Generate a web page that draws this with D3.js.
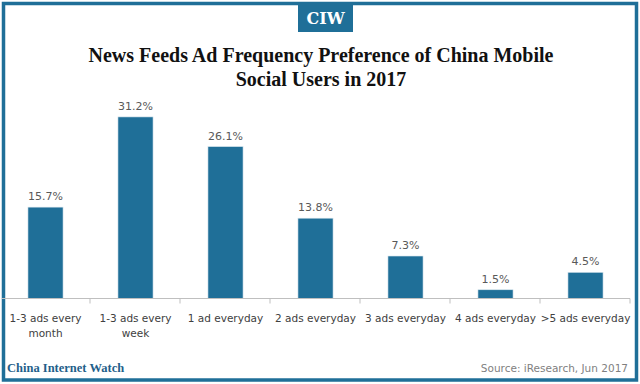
<!DOCTYPE html>
<html>
<head>
<meta charset="utf-8">
<script src="https://cdn.jsdelivr.net/npm/d3@7"></script>
<style>
  body { margin: 0; background: #fff; }
  svg { display: block; }
</style>
</head>
<body>
<div id="chart"></div>
<script>
const categories = [
  ["1-3 ads every", "month"],
  ["1-3 ads every", "week"],
  ["1 ad everyday"],
  ["2 ads everyday"],
  ["3 ads everyday"],
  ["4 ads everyday"],
  [">5 ads everyday"]
]
const values = [15.7, 31.2, 26.1, 13.8, 7.3, 1.5, 4.5]

const W = 640, H = 384
const blue = "#1f6f98"

const svg = d3.select("#chart").append("svg").attr("width", W).attr("height", H)

// frame
svg.append("rect")
  .attr("x", 3.5).attr("y", 3.5)
  .attr("width", 633).attr("height", 376.5)
  .attr("fill", "none")
  .attr("stroke", blue)
  .attr("stroke-width", 3.5)

// CIW badge
svg.append("rect")
  .attr("x", 298).attr("y", 3).attr("width", 55).attr("height", 29)
  .attr("fill", blue)
svg.append("text")
  .attr("x", 325.5).attr("y", 24)
  .attr("text-anchor", "middle")
  .attr("font-family", "'DejaVu Serif', serif")
  .attr("font-weight", "bold")
  .attr("font-size", 16)
  .attr("fill", "#fff")
  .text("CIW")

// title
const title = svg.append("text")
  .attr("text-anchor", "middle")
  .attr("font-family", "'Liberation Serif', 'DejaVu Serif', serif")
  .attr("font-weight", "bold")
  .attr("font-size", 20)
  .attr("fill", "#111")
title.append("tspan").attr("x", 321).attr("y", 62)
  .text("News Feeds Ad Frequency Preference of China Mobile")
title.append("tspan").attr("x", 321).attr("y", 86)
  .text("Social Users in 2017")

const x = d3.scaleBand()
  .domain(d3.range(categories.length))
  .range([0.5, 630.5])
  .paddingInner(0.61)
  .paddingOuter(0.305)

const y = d3.scaleLinear()
  .domain([0, 35])
  .range([298.5, 94.8])

// bars
svg.append("g")
  .selectAll("rect")
  .data(values)
  .join("rect")
  .attr("x", (d, i) => x(i))
  .attr("y", d => y(d))
  .attr("width", x.bandwidth())
  .attr("height", d => y(0) - y(d))
  .attr("fill", blue)
  .attr("stroke", "#d9e6ee")
  .attr("stroke-width", 0.6)

// value labels
svg.append("g")
  .selectAll("text")
  .data(values)
  .join("text")
  .attr("x", (d, i) => x(i) + x.bandwidth() / 2)
  .attr("y", d => y(d) - 7)
  .attr("text-anchor", "middle")
  .attr("font-family", "'DejaVu Sans', sans-serif")
  .attr("font-size", 11)
  .attr("fill", "#595959")
  .text(d => d.toFixed(1) + "%")

// axis line and ticks
const step = x.step()
const axis = svg.append("g")
axis.append("line")
  .attr("x1", 2).attr("x2", 630)
  .attr("y1", 298.5).attr("y2", 298.5)
  .attr("stroke", "#bfbfbf")
axis.selectAll("line.tick")
  .data(d3.range(1, categories.length + 1))
  .join("line")
  .attr("class", "tick")
  .attr("x1", i => 0.5 + i * step - 0.5).attr("x2", i => 0.5 + i * step - 0.5)
  .attr("y1", 298.5).attr("y2", 303.5)
  .attr("stroke", "#bfbfbf")

// category labels
const cat = svg.append("g")
  .selectAll("text")
  .data(categories)
  .join("text")
  .attr("text-anchor", "middle")
  .attr("font-family", "'DejaVu Sans', sans-serif")
  .attr("font-size", 10.5)
  .attr("fill", "#404040")
cat.each(function (lines, i) {
  const t = d3.select(this)
  lines.forEach((l, k) => {
    t.append("tspan")
      .attr("x", x(i) + x.bandwidth() / 2)
      .attr("y", 322 + k * 15)
      .text(l)
  })
})

// footer
svg.append("text")
  .attr("x", 7).attr("y", 372)
  .attr("font-family", "'Liberation Serif', 'DejaVu Serif', serif")
  .attr("font-weight", "bold")
  .attr("font-size", 12.5)
  .attr("fill", "#1f5f8a")
  .text("China Internet Watch")
svg.append("text")
  .attr("x", 628).attr("y", 372)
  .attr("text-anchor", "end")
  .attr("font-family", "'DejaVu Sans', sans-serif")
  .attr("font-size", 10.5)
  .attr("fill", "#7f7f7f")
  .text("Source: iResearch, Jun 2017")
</script>
</body>
</html>
